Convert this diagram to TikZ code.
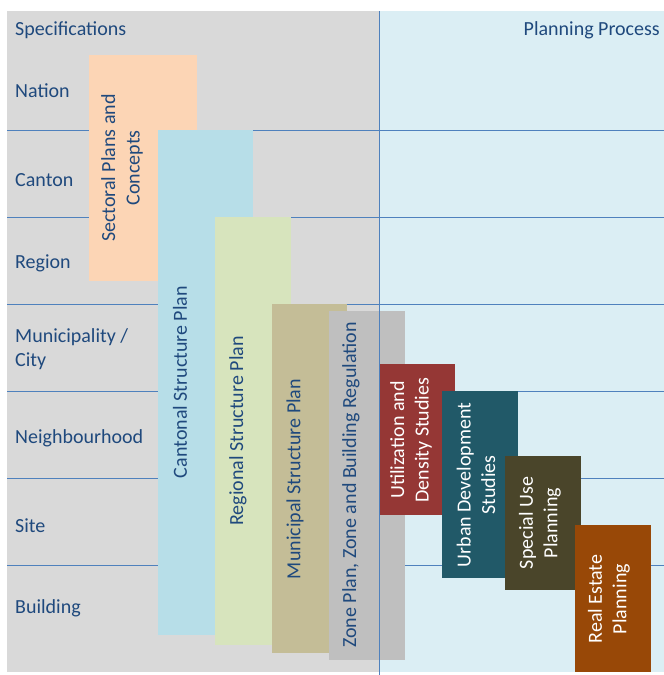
\documentclass[tikz,border=0pt]{standalone}
\usepackage{fontspec}
\setmainfont{Carlito}
\definecolor{txtblue}{HTML}{1F497D}
\definecolor{gridblue}{HTML}{4F81BD}
\definecolor{specgray}{HTML}{D9D9D9}
\definecolor{procblue}{HTML}{DBEEF4}
\definecolor{sectcol}{HTML}{FCD5B5}
\definecolor{cantcol}{HTML}{B7DEE8}
\definecolor{regcol}{HTML}{D7E4BD}
\definecolor{municol}{HTML}{C4BD97}
\definecolor{zonecol}{HTML}{BFBFBF}
\definecolor{utilcol}{HTML}{953735}
\definecolor{urbcol}{HTML}{215968}
\definecolor{specuse}{HTML}{4A452A}
\definecolor{realcol}{HTML}{984807}
\begin{document}
\begin{tikzpicture}[x=1pt,y=-1pt,font=\fontsize{20}{24.5}\selectfont,
        rowlbl/.style={anchor=base west,text=txtblue,inner sep=0pt},
        planlbl/.style={rotate=90,align=center,inner sep=0pt,text=txtblue},
        proclbl/.style={planlbl,text=white}]
        \useasboundingbox (0,0) rectangle (664,675);
        % the two halves
        \fill[specgray] (7,11) rectangle (379,672);
        \fill[procblue] (379,11) rectangle (664,672);
        \foreach \y in {130,217,304,391,478,565}
                \draw[gridblue,line width=0.8pt] (7,\y) -- (664,\y);
        % levels
        \node[rowlbl] (spec) at (15,35) {Specifications};
        \node[rowlbl,anchor=base east] (proc) at (660,35) {Planning Process};
        \node[rowlbl] (nation) at (15,97) {Nation};
        \node[rowlbl] (canton) at (15,186) {Canton};
        \node[rowlbl] (region) at (15,268) {Region};
        \node[rowlbl,anchor=west,align=left] (city) at (15,349) {Municipality /\\City};
        \node[rowlbl] (neigh) at (15,443) {Neighbourhood};
        \node[rowlbl] (site) at (15,532) {Site};
        \node[rowlbl] (building) at (15,613) {Building};
        % plans
        \fill[sectcol] (89,55) rectangle (197,281);
        \node[planlbl] (sectoral) at (122,168) {Sectoral Plans and\\Concepts};
        \fill[cantcol] (158,130) rectangle (253,635);
        \node[planlbl] (cantonal) at (180,382) {Cantonal Structure Plan};
        \fill[regcol] (215,217) rectangle (291,645);
        \node[planlbl] (regional) at (238,431) {Regional Structure Plan};
        \fill[municol] (272,304) rectangle (347,653);
        \node[planlbl] (municipal) at (295,479) {Municipal Structure Plan};
        \fill[zonecol] (329,311) rectangle (405,660);
        \node[planlbl] (zone) at (351,485) {Zone Plan, Zone and Building Regulation};
        % process
        \fill[utilcol] (380,364) rectangle (455,515);
        \node[proclbl] (util) at (411,440) {Utilization and\\Density Studies};
        \fill[urbcol] (442,391) rectangle (518,578);
        \node[proclbl] (urban) at (476,485) {Urban Development\\Studies};
        \fill[specuse] (505,456) rectangle (581,590);
        \node[proclbl] (special) at (540,523) {Special Use\\Planning};
        \fill[realcol] (575,525) rectangle (651,672);
        \node[proclbl] (real) at (609,599) {Real Estate\\Planning};
        \draw[gridblue,line width=0.8pt] (379,11) -- (379,675);
\end{tikzpicture}
\end{document}
